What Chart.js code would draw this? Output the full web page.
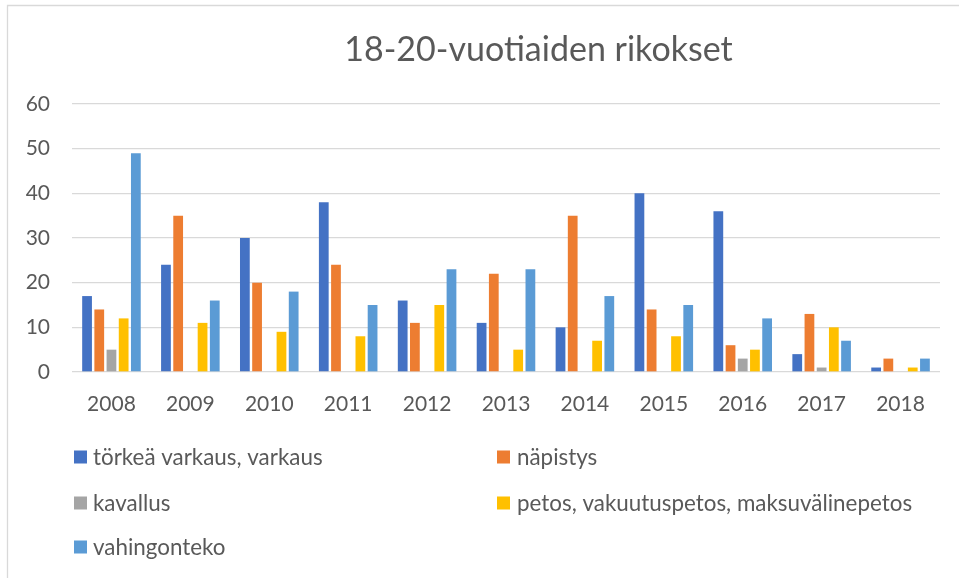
<!DOCTYPE html>
<html>
<head>
<meta charset="utf-8">
<script src="https://cdn.jsdelivr.net/npm/chart.js@4/dist/chart.umd.min.js"></script>
<style>
  html, body { margin: 0; padding: 0; background: #ffffff; }
  #wrap { position: relative; width: 959px; height: 578px; }
  canvas { display: block; }
</style>
</head>
<body>
<div id="wrap"><canvas id="c" width="959" height="578"></canvas></div>
<script>
const title = "18-20-vuotiaiden rikokset";
const years = ["2008","2009","2010","2011","2012","2013","2014","2015","2016","2017","2018"];
const seriesNames = [
  "törkeä varkaus, varkaus",
  "näpistys",
  "kavallus",
  "petos, vakuutuspetos, maksuvälinepetos",
  "vahingonteko"
];
const torkeaVarkaus = [17, 24, 30, 38, 16, 11, 10, 40, 36, 4, 1];
const napistys      = [14, 35, 20, 24, 11, 22, 35, 14, 6, 13, 3];
const kavallus      = [5, null, null, null, null, null, null, null, 3, 1, null];
const petos         = [12, 11, 9, 8, 15, 5, 7, 8, 5, 10, 1];
const vahingonteko  = [49, 16, 18, 15, 23, 23, 17, 15, 12, 7, 3];
const yTicks = [0, 10, 20, 30, 40, 50, 60];

const colors = ["#4472C4", "#ED7D31", "#A5A5A5", "#FFC000", "#5B9BD5"];
const seriesValues = [torkeaVarkaus, napistys, kavallus, petos, vahingonteko];
const textColor = "#595959";
const fontFamily = "Lato, 'Open Sans', sans-serif";

const decorPlugin = {
  id: "decor",
  beforeDraw(chart) {
    const ctx = chart.ctx;
    ctx.save();
    ctx.fillStyle = "#ffffff";
    ctx.fillRect(0, 0, chart.width, chart.height);
    // frame (left and top edges)
    ctx.strokeStyle = "#d9d9d9";
    ctx.lineWidth = 1.3;
    ctx.beginPath();
    ctx.moveTo(7.5, chart.height);
    ctx.lineTo(7.5, 5.5);
    ctx.lineTo(chart.width, 5.5);
    ctx.stroke();
    ctx.restore();
  },
  afterDraw(chart) {
    const ctx = chart.ctx;
    ctx.save();
    // title
    ctx.fillStyle = textColor;
    ctx.font = "34px " + fontFamily;
    ctx.textAlign = "center";
    ctx.textBaseline = "middle";
    ctx.fillText(title, 538.5, 50);
    // legend (two columns)
    const colBox = [74, 497];
    const colText = [93, 517];
    const rowY = [457, 503, 547];
    ctx.font = "22.4px " + fontFamily;
    ctx.textAlign = "left";
    chart.data.datasets.forEach((ds, i) => {
      const col = i % 2, row = Math.floor(i / 2);
      ctx.fillStyle = ds.backgroundColor;
      ctx.fillRect(colBox[col], rowY[row] - 6.5, 13, 13);
      ctx.fillStyle = textColor;
      ctx.fillText(ds.label, colText[col], rowY[row] + 1);
    });
    ctx.restore();
  }
};

new Chart(document.getElementById("c"), {
  type: "bar",
  data: {
    labels: years,
    datasets: seriesNames.map((name, i) => ({
      label: name,
      data: seriesValues[i],
      backgroundColor: colors[i],
      borderWidth: 0,
      categoryPercentage: 0.773,
      barPercentage: 0.8
    }))
  },
  options: {
    responsive: false,
    animation: false,
    layout: { padding: { left: 0, right: 19, top: 104, bottom: 156 } },
    plugins: {
      legend: { display: false },
      title: { display: false },
      tooltip: { enabled: false }
    },
    scales: {
      x: {
        grid: { display: false, drawTicks: false },
        border: { display: false },
        ticks: {
          color: textColor,
          font: { family: fontFamily, size: 21 },
          padding: 20,
          maxRotation: 0
        },
        afterFit(s) { s.height = 50; }
      },
      y: {
        min: 0,
        max: 60,
        afterBuildTicks(s) { s.ticks = yTicks.map(v => ({ value: v })); },
        grid: { color: "#d9d9d9", lineWidth: 1.3, drawTicks: false },
        border: { display: false },
        ticks: {
          color: textColor,
          font: { family: fontFamily, size: 21 },
          padding: 22
        },
        afterFit(s) { s.width = 72; }
      }
    }
  },
  plugins: [decorPlugin]
});
</script>
</body>
</html>
